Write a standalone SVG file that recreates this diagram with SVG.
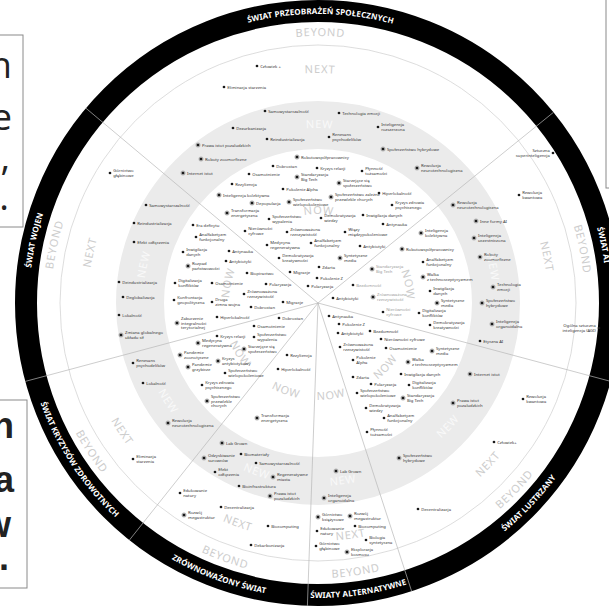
<svg xmlns="http://www.w3.org/2000/svg" xmlns:xlink="http://www.w3.org/1999/xlink" width="609" height="606" viewBox="0 0 609 606">
<style>
.it{font-family:"Noto Sans","DejaVu Sans",sans-serif;font-size:4.2px;fill:#333}
.gr{fill:#9a9a9a}
.lt{text-anchor:end}
.ring{font-family:"Noto Sans","DejaVu Sans",sans-serif;font-size:11px;fill:#cdcdcd;letter-spacing:0.8px;text-anchor:middle}
.ringw{fill:#f9f9f9}
.world{font-family:"Noto Sans","DejaVu Sans",sans-serif;font-size:8px;font-weight:bold;fill:#fff;letter-spacing:0.1px;text-anchor:middle}
.sep{stroke:#b8b8b8;stroke-width:0.7;fill:none}
.box{fill:#fff;stroke:#8a8a8a;stroke-width:1}
.bl{font-family:"Open Sans","Noto Sans",sans-serif;font-size:37px;fill:#222;text-anchor:end}
.b2{font-family:"Liberation Sans",sans-serif;font-weight:bold;font-size:36px;fill:#222;text-anchor:end}
</style>
<defs>
<circle id="d" r="1.35" fill="#1a1a1a"/>
<g id="b"><circle r="2.5" fill="#b3b3b3"/><circle r="1.35" fill="#1a1a1a"/></g>
<path id="t89" d="M 260.79 234.83 A 89 89 0 0 1 375.21 234.83"/>
<path id="t175" d="M 205.51 168.95 A 175 175 0 0 1 430.49 168.95"/>
<path id="t230" d="M 170.16 126.82 A 230 230 0 0 1 465.84 126.82"/>
<path id="t267" d="M 146.37 98.48 A 267 267 0 0 1 489.63 98.48"/>
<path id="t289" d="M 132.23 81.63 A 289 289 0 0 1 503.77 81.63"/>
<path id="b97" d="M 255.65 377.30 A 97 97 0 0 0 380.35 377.30"/>
<path id="b183" d="M 200.37 443.18 A 183 183 0 0 0 435.63 443.18"/>
<path id="b238" d="M 165.01 485.31 A 238 238 0 0 0 470.99 485.31"/>
<path id="b275" d="M 141.23 513.65 A 275 275 0 0 0 494.77 513.65"/>
<path id="b295" d="M 128.37 528.97 A 295 295 0 0 0 507.63 528.97"/>
</defs>
<rect x="0" y="0" width="609" height="606" fill="#fff"/>

<g id="side-boxes">
<rect class="box" x="-2" y="35" width="25" height="192"/>
<text class="bl" x="12" y="78">n</text>
<text class="bl" x="12" y="130">e</text>
<text class="bl" x="10" y="170">,</text>
<text class="bl" x="9" y="210">.</text>
<rect class="box" x="-2" y="400" width="29" height="188"/>
<text class="b2" x="14" y="438">n</text>
<text class="b2" x="14" y="492">a</text>
<text class="b2" x="11" y="537">w</text>
<text class="b2" x="9" y="570">.</text>
<rect class="box" x="606" y="-2" width="20" height="190"/>
</g>

<g id="rings">
<circle cx="318" cy="303" r="292" fill="none" stroke="#000" stroke-width="22"/>
<circle cx="318" cy="303" r="258" fill="none" stroke="#cfcfcf" stroke-width="0.7"/>
<circle cx="318" cy="303" r="178" fill="none" stroke="#ebebeb" stroke-width="48"/>
</g>

<g id="connectors">
<line class="sep" x1="318" y1="303" x2="85.9" y2="108.2"/>
<line class="sep" x1="318" y1="303" x2="553.5" y2="112.3"/>
<line class="sep" x1="318" y1="303" x2="610.7" y2="381.4"/>
<line class="sep" x1="318" y1="303" x2="411.6" y2="591.2"/>
<line class="sep" x1="318" y1="303" x2="307.4" y2="605.8"/>
<line class="sep" x1="318" y1="303" x2="129.4" y2="540.1"/>
<line class="sep" x1="318" y1="303" x2="25.3" y2="381.4"/>
</g>

<g id="ring-labels">
<text class="world" transform="rotate(0.5 318 303)"><textPath href="#t289" startOffset="50%">ŚWIAT PRZEOBRAŻEŃ SPOŁECZNYCH</textPath></text>
<text class="world" transform="rotate(78.5 318 303)"><textPath href="#t289" startOffset="50%">ŚWIAT AI</textPath></text>
<text class="world" transform="rotate(-46.5 318 303)"><textPath href="#b295" startOffset="50%">ŚWIAT LUSTRZANY</textPath></text>
<text class="world" transform="rotate(-8 318 303)"><textPath href="#b295" startOffset="50%">ŚWIATY ALTERNATYWNE</textPath></text>
<text class="world" transform="rotate(20 318 303)"><textPath href="#b295" startOffset="50%">ZRÓWNOWAŻONY ŚWIAT</textPath></text>
<text class="world" transform="rotate(56.75 318 303)"><textPath href="#b295" startOffset="50%">ŚWIAT KRYZYSÓW ZDROWOTNYCH</textPath></text>
<text class="world" transform="rotate(282.5 318 303)"><textPath href="#t289" startOffset="50%">ŚWIAT WOJEN</textPath></text>

<text class="ring" transform="rotate(0.5 318 303)"><textPath href="#t267" startOffset="50%">BEYOND</textPath></text>
<text class="ring" transform="rotate(0.5 318 303)"><textPath href="#t230" startOffset="50%">NEXT</textPath></text>
<text class="ring ringw" transform="rotate(0.5 318 303)"><textPath href="#t175" startOffset="50%">NEW</textPath></text>
<text class="ring" transform="rotate(0.5 318 303)"><textPath href="#t89" startOffset="50%">NOW</textPath></text>

<text class="ring" transform="rotate(78.5 318 303)"><textPath href="#t267" startOffset="50%">BEYOND</textPath></text>
<text class="ring" transform="rotate(78.5 318 303)"><textPath href="#t230" startOffset="50%">NEXT</textPath></text>
<text class="ring ringw" transform="rotate(78.5 318 303)"><textPath href="#t175" startOffset="50%">NEW</textPath></text>
<text class="ring" transform="rotate(78.5 318 303)"><textPath href="#t89" startOffset="50%">NOW</textPath></text>

<text class="ring" transform="rotate(282.5 318 303)"><textPath href="#t267" startOffset="50%">BEYOND</textPath></text>
<text class="ring" transform="rotate(282.5 318 303)"><textPath href="#t230" startOffset="50%">NEXT</textPath></text>
<text class="ring ringw" transform="rotate(282.5 318 303)"><textPath href="#t175" startOffset="50%">NEW</textPath></text>
<text class="ring" transform="rotate(282.5 318 303)"><textPath href="#t89" startOffset="50%">NOW</textPath></text>

<text class="ring" transform="rotate(-46.5 318 303)"><textPath href="#b275" startOffset="50%">BEYOND</textPath></text>
<text class="ring" transform="rotate(-46.5 318 303)"><textPath href="#b238" startOffset="50%">NEXT</textPath></text>
<text class="ring ringw" transform="rotate(-46.5 318 303)"><textPath href="#b183" startOffset="50%">NEW</textPath></text>
<text class="ring" transform="rotate(-46.5 318 303)"><textPath href="#b97" startOffset="50%">NOW</textPath></text>

<text class="ring" transform="rotate(-8 318 303)"><textPath href="#b275" startOffset="50%">BEYOND</textPath></text>
<text class="ring" transform="rotate(-8 318 303)"><textPath href="#b238" startOffset="50%">NEXT</textPath></text>
<text class="ring ringw" transform="rotate(-8 318 303)"><textPath href="#b183" startOffset="50%">NEW</textPath></text>
<text class="ring" transform="rotate(-8 318 303)"><textPath href="#b97" startOffset="50%">NOW</textPath></text>

<text class="ring" transform="rotate(20 318 303)"><textPath href="#b275" startOffset="50%">BEYOND</textPath></text>
<text class="ring" transform="rotate(20 318 303)"><textPath href="#b238" startOffset="50%">NEXT</textPath></text>
<text class="ring ringw" transform="rotate(20 318 303)"><textPath href="#b183" startOffset="50%">NEW</textPath></text>
<text class="ring" transform="rotate(20 318 303)"><textPath href="#b97" startOffset="50%">NOW</textPath></text>

<text class="ring" transform="rotate(56.75 318 303)"><textPath href="#b275" startOffset="50%">BEYOND</textPath></text>
<text class="ring" transform="rotate(56.75 318 303)"><textPath href="#b238" startOffset="50%">NEXT</textPath></text>
<text class="ring ringw" transform="rotate(56.75 318 303)"><textPath href="#b183" startOffset="50%">NEW</textPath></text>
<text class="ring" transform="rotate(56.75 318 303)"><textPath href="#b97" startOffset="50%">NOW</textPath></text>
</g>

<g id="items" class="it">
<g id="n1"><use href="#d" x="257" y="66"/><text x="260.2" y="67.5">Człowiek +</text></g>
<g id="n2"><use href="#d" x="224" y="87"/><text x="227.2" y="88.5">Eliminacja starzenia</text></g>
<g id="n3"><use href="#d" x="265" y="111"/><text x="268.2" y="112.5">Samowystarczalność</text></g>
<g id="n4"><use href="#d" x="339" y="113"/><text x="342.2" y="114.5">Technologia emocji</text></g>
<g id="n5"><use href="#d" x="233" y="128"/><text x="236.2" y="129.5">Dezurbanizacja</text></g>
<g id="n6"><use href="#d" x="378" y="127"/><text x="381.2" y="126.3">Inteligencja<tspan x="381.2" dy="4.4">rozszerzona</tspan></text></g>
<g id="n7"><use href="#d" x="267" y="139"/><text x="270.2" y="140.5">Reindustrializacja</text></g>
<g id="n8"><use href="#d" x="329" y="137"/><text x="332.2" y="136.3">Renesans<tspan x="332.2" dy="4.4">psychodelików</tspan></text></g>
<g id="n9"><use href="#b" x="198" y="145"/><text x="202" y="146.5">Prawa istot pozaludzkich</text></g>
<g id="n10"><use href="#b" x="383" y="149"/><text x="387" y="150.5">Społeczeństwo hybrydowe</text></g>
<g id="n11"><use href="#b" x="201" y="159"/><text x="205" y="160.5">Roboty zoomorficzne</text></g>
<g id="n12"><use href="#b" x="183" y="173"/><text x="187" y="174.5">Internet istot</text></g>
<g id="n13"><use href="#b" x="417" y="168"/><text x="421" y="167.3">Rewolucja<tspan x="421" dy="4.4">neurotechnologiczna</tspan></text></g>
<g id="n14"><use href="#d" x="553" y="153"/><text class="lt" x="549.8" y="152.3">Sztuczna<tspan x="549.8" dy="4.4">superinteligencja</tspan></text></g>
<g id="n15"><use href="#d" x="519" y="195"/><text x="522.2" y="194.3">Rewolucja<tspan x="522.2" dy="4.4">kwantowa</tspan></text></g>

<g id="n16"><use href="#b" x="297" y="157"/><text x="301" y="158.5">Robotowspółpracownicy</text></g>
<g id="n17"><use href="#d" x="273" y="166"/><text x="276.2" y="167.5">Dobrostan</text></g>
<g id="n18"><use href="#d" x="317" y="168"/><text x="320.2" y="169.5">Kryzys relacji</text></g>
<g id="n19"><use href="#d" x="362" y="171"/><text x="365.2" y="170.3">Płynność<tspan x="365.2" dy="4.4">tożsamości</tspan></text></g>
<g id="n20"><use href="#d" x="249" y="174"/><text x="252.2" y="175.5">Osamotnienie</text></g>
<g id="n21"><use href="#b" x="297" y="177"/><text x="301" y="176.3">Standaryzacja<tspan x="301" dy="4.4">Big Tech</tspan></text></g>
<g id="n22"><use href="#d" x="232" y="184"/><text x="235.2" y="185.5">Rezyliencja</text></g>
<g id="n23"><use href="#b" x="339" y="183"/><text x="343" y="182.3">Starzejące się<tspan x="343" dy="4.4">społeczeństwo</tspan></text></g>
<g id="n24"><use href="#d" x="283" y="189"/><text x="286.2" y="190.5">Pokolenie Alpha</text></g>
<g id="n25"><use href="#b" x="219" y="195"/><text x="223" y="196.5">Inteligencja kolektywna</text></g>
<g id="n26"><use href="#d" x="379" y="193"/><text x="382.2" y="194.5">Hiperlokalność</text></g>
<g id="n27"><use href="#b" x="331" y="197"/><text x="335" y="196.3">Społeczeństwo zależne<tspan x="335" dy="4.4">przewlekle chorych</tspan></text></g>
<g id="n28"><use href="#b" x="252" y="203"/><text x="256" y="204.5">Depopulacja</text></g>
<g id="n29"><use href="#b" x="289" y="202"/><text x="293" y="201.3">Społeczeństwo<tspan x="293" dy="4.4">wielopokoleniowe</tspan></text></g>
<g id="n30"><use href="#d" x="392" y="205"/><text x="395.2" y="204.3">Kryzys zdrowia<tspan x="395.2" dy="4.4">psychicznego</tspan></text></g>
<g id="n31"><use href="#b" x="227" y="213"/><text x="231" y="212.3">Transformacja<tspan x="231" dy="4.4">energetyczna</tspan></text></g>
<g id="n32"><use href="#d" x="269" y="219"/><text x="272.2" y="218.3">Społeczeństwo<tspan x="272.2" dy="4.4">wypalenia</tspan></text></g>
<g id="n33"><use href="#d" x="321" y="218"/><text x="324.2" y="217.3">Demokratyzacja<tspan x="324.2" dy="4.4">wiedzy</tspan></text></g>
<g id="n34"><use href="#d" x="363" y="215"/><text x="366.2" y="216.5">Inwigilacja danych</text></g>
<g id="n35"><use href="#d" x="383" y="224"/><text x="386.2" y="225.5">Antynauka</text></g>
<g id="n36"><use href="#d" x="245" y="231"/><text x="248.2" y="230.3">Nierówności<tspan x="248.2" dy="4.4">cyfrowe</tspan></text></g>
<g id="n37"><use href="#d" x="287" y="232"/><text x="290.2" y="231.3">Zrównoważona<tspan x="290.2" dy="4.4">rzeczywistość</tspan></text></g>
<g id="n38"><use href="#d" x="345" y="232"/><text x="348.2" y="231.3">Więzy<tspan x="348.2" dy="4.4">międzypokoleniowe</tspan></text></g>
<g id="n39"><use href="#d" x="267" y="245"/><text x="270.2" y="244.3">Medycyna<tspan x="270.2" dy="4.4">regeneratywna</tspan></text></g>
<g id="n40"><use href="#d" x="311" y="243"/><text x="314.2" y="242.3">Analfabetyzm<tspan x="314.2" dy="4.4">funkcjonalny</tspan></text></g>
<g id="n41"><use href="#d" x="360" y="246"/><text x="363.2" y="247.5">Antybiotyki</text></g>
<g id="n42"><use href="#d" x="279" y="258"/><text x="282.2" y="257.3">Demokratyzacja<tspan x="282.2" dy="4.4">kreatywności</tspan></text></g>
<g id="n43"><use href="#b" x="340" y="258"/><text x="344" y="257.3">Syntetyczne<tspan x="344" dy="4.4">media</tspan></text></g>
<g id="n44"><use href="#d" x="319" y="267"/><text x="322.2" y="268.5">Zdarta</text></g>
<g id="n45"><use href="#d" x="290" y="272"/><text x="293.2" y="273.5">Migracje</text></g>
<g id="n46"><use href="#d" x="317" y="278"/><text x="320.2" y="279.5">Pokolenie Z</text></g>
<g id="n47"><use href="#d" x="308" y="286"/><text x="311.2" y="287.5">Polaryzacja</text></g>

<g id="n48"><use href="#d" x="110" y="173"/><text x="113.2" y="172.3">Górnictwo<tspan x="113.2" dy="4.4">głębinowe</tspan></text></g>
<g id="n49"><use href="#d" x="146" y="205"/><text x="149.2" y="206.5">Samowystarczalność</text></g>
<g id="n50"><use href="#d" x="134" y="223"/><text x="137.2" y="224.5">Reindustrializacja</text></g>
<g id="n51"><use href="#d" x="134" y="242"/><text x="137.2" y="243.5">Efekt odłączenia</text></g>
<g id="n52"><use href="#d" x="119" y="282"/><text x="122.2" y="283.5">Deindustrializacja</text></g>
<g id="n53"><use href="#d" x="123" y="297"/><text x="126.2" y="298.5">Deglobalizacja</text></g>
<g id="n54"><use href="#d" x="193" y="225"/><text x="196.2" y="226.5">Era deficytu</text></g>
<g id="n55"><use href="#d" x="196" y="237"/><text x="199.2" y="236.3">Analfabetyzm<tspan x="199.2" dy="4.4">funkcjonalny</tspan></text></g>
<g id="n56"><use href="#d" x="183" y="252"/><text x="186.2" y="251.3">Inwigilacja<tspan x="186.2" dy="4.4">danych</tspan></text></g>
<g id="n57"><use href="#d" x="229" y="251"/><text x="232.2" y="252.5">Antynauka</text></g>
<g id="n58"><use href="#b" x="188" y="266"/><text x="192" y="265.3">Rozpad<tspan x="192" dy="4.4">państwowości</tspan></text></g>
<g id="n59"><use href="#d" x="226" y="261"/><text x="229.2" y="262.5">Antybiotyki</text></g>
<g id="n60"><use href="#d" x="247" y="273"/><text x="250.2" y="274.5">Biopiractwo</text></g>
<g id="n61"><use href="#d" x="175" y="283"/><text x="178.2" y="282.3">Digitalizacja<tspan x="178.2" dy="4.4">konfliktów</tspan></text></g>
<g id="n62"><use href="#d" x="212" y="283"/><text x="215.2" y="284.5">Osamotnienie</text></g>
<g id="n63"><use href="#d" x="266" y="284"/><text x="269.2" y="285.5">Polaryzacja</text></g>
<g id="n64"><use href="#d" x="174" y="300"/><text x="177.2" y="299.3">Konfrontacja<tspan x="177.2" dy="4.4">geopolityczna</tspan></text></g>
<g id="n65"><use href="#d" x="212" y="302"/><text x="215.2" y="301.3">Druga<tspan x="215.2" dy="4.4">zimna wojna</tspan></text></g>
<g id="n66"><use href="#d" x="244" y="294"/><text x="247.2" y="293.3">Zrównoważona<tspan x="247.2" dy="4.4">rzeczywistość</tspan></text></g>
<g id="n67"><use href="#d" x="283" y="302"/><text x="286.2" y="303.5">Migracje</text></g>
<g id="n68"><use href="#d" x="251" y="307"/><text x="254.2" y="308.5">Dobrostan</text></g>
<g id="n69"><use href="#d" x="217" y="317"/><text x="220.2" y="318.5">Hiperlokalność</text></g>
<g id="n70"><use href="#d" x="279" y="318"/><text x="282.2" y="319.5">Dobrostan</text></g>
<g id="n71"><use href="#b" x="177" y="323"/><text x="181" y="320.1">Zaburzenie<tspan x="181" dy="4.4">integralności</tspan><tspan x="181" dy="4.4">terytorialnej</tspan></text></g>
<g id="n72"><use href="#b" x="121" y="335"/><text x="125" y="334.3">Zmiana globalnego<tspan x="125" dy="4.4">układu sił</tspan></text></g>
<g id="n73"><use href="#d" x="119" y="315"/><text x="122.2" y="316.5">Lokalność</text></g>

<g id="n74"><use href="#d" x="254" y="326"/><text x="257.2" y="327.5">Osamotnienie</text></g>
<g id="n75"><use href="#d" x="217" y="336"/><text x="220.2" y="337.5">Kryzys relacji</text></g>
<g id="n76"><use href="#d" x="254" y="337"/><text x="257.2" y="336.3">Społeczeństwo<tspan x="257.2" dy="4.4">wypalenia</tspan></text></g>
<g id="n77"><use href="#b" x="198" y="343"/><text x="202" y="342.3">Medycyna<tspan x="202" dy="4.4">regeneratywna</tspan></text></g>
<g id="n78"><use href="#b" x="180" y="355"/><text x="184" y="354.3">Pandemie<tspan x="184" dy="4.4">zoonotyczne</tspan></text></g>
<g id="n79"><use href="#b" x="244" y="349"/><text x="248" y="348.3">Starzejące się<tspan x="248" dy="4.4">społeczeństwo</tspan></text></g>
<g id="n80"><use href="#b" x="218" y="361"/><text x="222" y="360.3">Kryzys<tspan x="222" dy="4.4">antybiotykowy</tspan></text></g>
<g id="n81"><use href="#b" x="188" y="367"/><text x="192" y="366.3">Pandemie<tspan x="192" dy="4.4">grzybicze</tspan></text></g>
<g id="n82"><use href="#d" x="287" y="355"/><text x="290.2" y="356.5">Rezyliencja</text></g>
<g id="n83"><use href="#d" x="225" y="373"/><text x="228.2" y="372.3">Społeczeństwo<tspan x="228.2" dy="4.4">wielopokoleniowe</tspan></text></g>
<g id="n84"><use href="#d" x="278" y="369"/><text x="281.2" y="370.5">Hiperlokalność</text></g>
<g id="n85"><use href="#d" x="202" y="385"/><text x="205.2" y="384.3">Kryzys zdrowia<tspan x="205.2" dy="4.4">psychicznego</tspan></text></g>
<g id="n86"><use href="#b" x="207" y="401"/><text x="211" y="398.1">Społeczeństwo<tspan x="211" dy="4.4">przewlekle</tspan><tspan x="211" dy="4.4">chorych</tspan></text></g>
<g id="n87"><use href="#b" x="257" y="418"/><text x="261" y="417.3">Transformacja<tspan x="261" dy="4.4">energetyczna</tspan></text></g>
<g id="n88"><use href="#d" x="133" y="363"/><text x="136.2" y="362.3">Renesans<tspan x="136.2" dy="4.4">psychodelików</tspan></text></g>
<g id="n89"><use href="#d" x="143" y="383"/><text x="146.2" y="384.5">Lokalność</text></g>
<g id="n90"><use href="#b" x="168" y="423"/><text x="172" y="422.3">Rewolucja<tspan x="172" dy="4.4">neurotechnologiczna</tspan></text></g>
<g id="n91"><use href="#d" x="133" y="459"/><text x="136.2" y="458.3">Eliminacja<tspan x="136.2" dy="4.4">starzenia</tspan></text></g>

<g id="n92"><use href="#b" x="222" y="443"/><text x="226" y="444.5">Lab Grown</text></g>
<g id="n93"><use href="#b" x="204" y="458"/><text x="208" y="457.3">Odzyskiwanie<tspan x="208" dy="4.4">surowców</tspan></text></g>
<g id="n94"><use href="#d" x="241" y="454"/><text x="244.2" y="455.5">Biomateriały</text></g>
<g id="n95"><use href="#d" x="256" y="463"/><text x="259.2" y="464.5">Samowystarczalność</text></g>
<g id="n96"><use href="#d" x="215" y="472"/><text x="218.2" y="471.3">Efekt<tspan x="218.2" dy="4.4">odłączenia</tspan></text></g>
<g id="n97"><use href="#b" x="273" y="477"/><text x="277" y="476.3">Regeneratywne<tspan x="277" dy="4.4">miasta</tspan></text></g>
<g id="n98"><use href="#d" x="239" y="486"/><text x="242.2" y="487.5">Bioinfrastruktura</text></g>
<g id="n99"><use href="#b" x="270" y="496"/><text x="274" y="495.3">Prawa istot<tspan x="274" dy="4.4">pozaludzkich</tspan></text></g>
<g id="n100"><use href="#d" x="180" y="493"/><text x="183.2" y="492.3">Edukowanie<tspan x="183.2" dy="4.4">natury</tspan></text></g>
<g id="n101"><use href="#b" x="184" y="515"/><text x="188" y="514.3">Rozwój<tspan x="188" dy="4.4">megastruktur</tspan></text></g>
<g id="n102"><use href="#d" x="221" y="507"/><text x="224.2" y="508.5">Decentralizacja</text></g>
<g id="n103"><use href="#d" x="268" y="526"/><text x="271.2" y="527.5">Biocomputing</text></g>
<g id="n104"><use href="#d" x="251" y="545"/><text x="254.2" y="546.5">Dekarbonizacja</text></g>

<g id="n105"><use href="#b" x="336" y="471"/><text x="340" y="472.5">Lab Grown</text></g>
<g id="n106"><use href="#b" x="324" y="498"/><text x="328" y="497.3">Inteligencja<tspan x="328" dy="4.4">organoidalna</tspan></text></g>
<g id="n107"><use href="#b" x="318" y="517"/><text x="322" y="516.3">Górnictwo<tspan x="322" dy="4.4">księżycowe</tspan></text></g>
<g id="n108"><use href="#b" x="350" y="516"/><text x="354" y="515.3">Rozwój<tspan x="354" dy="4.4">megastruktur</tspan></text></g>
<g id="n109"><use href="#d" x="317" y="531"/><text x="320.2" y="530.3">Edukowanie<tspan x="320.2" dy="4.4">natury</tspan></text></g>
<g id="n110"><use href="#d" x="355" y="526"/><text x="358.2" y="527.5">Biocomputing</text></g>
<g id="n111"><use href="#d" x="366" y="540"/><text x="369.2" y="539.3">Biologia<tspan x="369.2" dy="4.4">syntetyczna</tspan></text></g>
<g id="n112"><use href="#d" x="316" y="546"/><text x="319.2" y="545.3">Górnictwo<tspan x="319.2" dy="4.4">głębinowe</tspan></text></g>
<g id="n113"><use href="#b" x="347" y="552"/><text x="351" y="551.3">Eksploracja<tspan x="351" dy="4.4">kosmosu</tspan></text></g>

<g id="n114"><use href="#d" x="329" y="316"/><text x="332.2" y="317.5">Antynauka</text></g>
<g id="n115"><use href="#d" x="339" y="324"/><text x="342.2" y="325.5">Pokolenie Z</text></g>
<g id="n116"><use href="#d" x="338" y="333"/><text x="341.2" y="334.5">Antybiotyki</text></g>
<g id="n117"><use href="#d" x="370" y="331"/><text x="373.2" y="332.5">Bezdomność</text></g>
<g id="n118"><use href="#d" x="340" y="347"/><text x="343.2" y="346.3">Zrównoważona<tspan x="343.2" dy="4.4">rzeczywistość</tspan></text></g>
<g id="n119"><use href="#d" x="353" y="360"/><text x="356.2" y="359.3">Pokolenie<tspan x="356.2" dy="4.4">Alpha</tspan></text></g>
<g id="n120"><use href="#d" x="353" y="377"/><text x="356.2" y="378.5">Zdarta</text></g>
<g id="n121"><use href="#d" x="371" y="384"/><text x="374.2" y="385.5">Polaryzacja</text></g>
<g id="n122"><use href="#d" x="357" y="393"/><text x="360.2" y="392.3">Społeczeństwo<tspan x="360.2" dy="4.4">wielopokoleniowe</tspan></text></g>
<g id="n123"><use href="#d" x="366" y="408"/><text x="369.2" y="407.3">Demokratyzacja<tspan x="369.2" dy="4.4">wiedzy</tspan></text></g>
<g id="n124"><use href="#d" x="384" y="418"/><text x="387.2" y="417.3">Analfabetyzm<tspan x="387.2" dy="4.4">funkcjonalny</tspan></text></g>
<g id="n125"><use href="#d" x="367" y="432"/><text x="370.2" y="431.3">Płynność<tspan x="370.2" dy="4.4">tożsamości</tspan></text></g>

<g id="n126"><use href="#b" x="373" y="297"/><text class="gr" x="377" y="296.3">Zrównoważona<tspan x="377" dy="4.4">rzeczywistość</tspan></text></g>
<g id="n127"><use href="#b" x="372" y="269"/><text class="gr" x="376" y="268.3">Standaryzacja<tspan x="376" dy="4.4">Big Tech</tspan></text></g>
<g id="n128"><use href="#d" x="353" y="285"/><text class="gr" x="356.2" y="286.5">Bezdomność</text></g>
<g id="n129"><use href="#d" x="333" y="298"/><text x="336.2" y="299.5">Antybiotyki</text></g>
<g id="n130"><use href="#d" x="383" y="312"/><text class="gr" x="386.2" y="311.3">Nierówności<tspan x="386.2" dy="4.4">cyfrowe</tspan></text></g>
<g id="n131"><use href="#b" x="421" y="233"/><text x="425" y="232.3">Inteligencja<tspan x="425" dy="4.4">kolektywna</tspan></text></g>
<g id="n132"><use href="#b" x="402" y="249"/><text x="406" y="250.5">Robotowspółpracownicy</text></g>
<g id="n133"><use href="#d" x="423" y="262"/><text x="426.2" y="261.3">Analfabetyzm<tspan x="426.2" dy="4.4">funkcjonalny</tspan></text></g>
<g id="n134"><use href="#b" x="423" y="277"/><text x="427" y="276.3">Walka<tspan x="427" dy="4.4">z technosceptycyzmem</tspan></text></g>
<g id="n135"><use href="#d" x="430" y="291"/><text x="433.2" y="290.3">Inwigilacja<tspan x="433.2" dy="4.4">danych</tspan></text></g>
<g id="n136"><use href="#b" x="437" y="303"/><text x="441" y="302.3">Syntetyczne<tspan x="441" dy="4.4">media</tspan></text></g>
<g id="n137"><use href="#d" x="419" y="313"/><text x="422.2" y="312.3">Digitalizacja<tspan x="422.2" dy="4.4">konfliktów</tspan></text></g>
<g id="n138"><use href="#d" x="430" y="325"/><text x="433.2" y="324.3">Demokratyzacja<tspan x="433.2" dy="4.4">kreatywności</tspan></text></g>
<g id="n139"><use href="#b" x="453" y="205"/><text x="457" y="204.3">Rewolucja<tspan x="457" dy="4.4">neurotechnologiczna</tspan></text></g>
<g id="n140"><use href="#b" x="476" y="221"/><text x="480" y="222.5">Inne formy AI</text></g>
<g id="n141"><use href="#b" x="474" y="238"/><text x="478" y="237.3">Inteligencja<tspan x="478" dy="4.4">uczestniczona</tspan></text></g>
<g id="n142"><use href="#b" x="480" y="257"/><text x="484" y="256.3">Roboty<tspan x="484" dy="4.4">zoomorficzne</tspan></text></g>
<g id="n143"><use href="#b" x="493" y="287"/><text x="497" y="286.3">Technologia<tspan x="497" dy="4.4">emocji</tspan></text></g>
<g id="n144"><use href="#b" x="482" y="303"/><text x="486" y="302.3">Społeczeństwo<tspan x="486" dy="4.4">hybrydowe</tspan></text></g>
<g id="n145"><use href="#b" x="492" y="324"/><text x="496" y="323.3">Inteligencja<tspan x="496" dy="4.4">organoidalna</tspan></text></g>
<g id="n146"><use href="#d" x="480" y="341"/><text x="483.2" y="342.5">Etyczna AI</text></g>
<g id="n147"><use href="#d" x="599" y="328"/><text class="lt" x="595.8" y="327.3">Ogólna sztuczna<tspan x="595.8" dy="4.4">inteligencja (AGI)</tspan></text></g>

<g id="n149"><use href="#d" x="386" y="348"/><text x="389.2" y="349.5">Osamotnienie</text></g>
<g id="n150"><use href="#d" x="381" y="339"/><text x="384.2" y="340.5">Nierówności cyfrowe</text></g>
<g id="n151"><use href="#d" x="401" y="374"/><text x="404.2" y="375.5">Inwigilacja danych</text></g>
<g id="n152"><use href="#b" x="408" y="362"/><text x="412" y="361.3">Walka<tspan x="412" dy="4.4">z technosceptycyzmem</tspan></text></g>
<g id="n153"><use href="#b" x="432" y="351"/><text x="436" y="350.3">Syntetyczne<tspan x="436" dy="4.4">media</tspan></text></g>
<g id="n154"><use href="#d" x="409" y="385"/><text x="412.2" y="384.3">Digitalizacja<tspan x="412.2" dy="4.4">konfliktów</tspan></text></g>
<g id="n155"><use href="#b" x="403" y="398"/><text x="407" y="397.3">Standaryzacja<tspan x="407" dy="4.4">Big Tech</tspan></text></g>
<g id="n156"><use href="#b" x="470" y="374"/><text x="474" y="375.5">Internet istot</text></g>
<g id="n157"><use href="#b" x="453" y="403"/><text x="457" y="402.3">Prawa istot<tspan x="457" dy="4.4">pozaludzkich</tspan></text></g>
<g id="n158"><use href="#d" x="523" y="399"/><text x="526.2" y="398.3">Rewolucja<tspan x="526.2" dy="4.4">kwantowa</tspan></text></g>
<g id="n159"><use href="#b" x="399" y="458"/><text x="403" y="457.3">Społeczeństwo<tspan x="403" dy="4.4">hybrydowe</tspan></text></g>
<g id="n160"><use href="#d" x="494" y="442"/><text x="497.2" y="443.5">Człowiek+</text></g>
<g id="n161"><use href="#d" x="418" y="509"/><text x="421.2" y="510.5">Decentralizacja</text></g>
</g>
</svg>
